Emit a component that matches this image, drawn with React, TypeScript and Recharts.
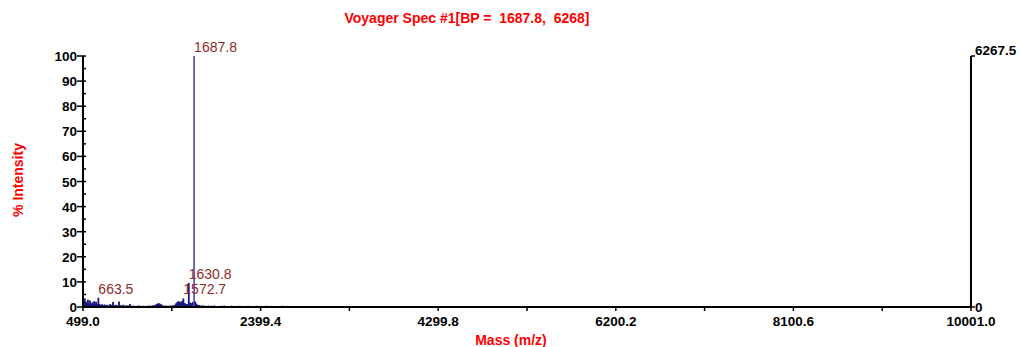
import { ComposedChart, Bar, Line, Cell, XAxis, YAxis, LabelList } from 'recharts'

// stick spectrum: m/z and relative intensity (%)
const masses = [
  507, 518, 530, 541, 552, 563, 574, 586, 597, 608, 617, 628, 638, 650, 663.5, 674, 689, 702, 716, 731,
  745, 760, 776, 790, 805, 820, 836, 851, 867, 884, 899, 915, 932, 948, 965, 982, 1002, 1020, 1041, 1060,
  1081, 1102, 1124, 1145, 1166, 1188, 1210, 1232, 1250, 1268, 1285, 1298, 1310, 1322, 1336, 1350, 1368, 1390, 1412, 1432,
  1455, 1478, 1495, 1508, 1520, 1533, 1546, 1558, 1572.7, 1588, 1603, 1617, 1630.8, 1645, 1660, 1674, 1687.8, 1700, 1712, 1726,
  1741, 1760, 1785, 1810, 1840, 1870, 1905, 1940, 1975, 2010, 2050, 2090, 2130, 2175, 2220, 2265, 2310, 2360, 2410, 2460,
  2515, 2570, 2630, 2690, 2750, 2820, 2890, 2960, 3040, 3120, 3200, 3290, 3380, 3470, 3560, 3650, 3750, 3850, 3950, 4060,
  4170, 4290, 4410, 4530, 4660, 4790, 4930, 5080, 5240, 5400, 5580, 5770, 5980, 6210,
]
const intensities = [
  2.0, 3.4, 2.2, 1.6, 2.9, 1.4, 2.6, 1.2, 1.8, 1.1, 2.3, 1.0, 2.1, 1.3, 3.7, 1.2, 0.9, 1.1, 0.8, 1.0,
  0.7, 0.9, 0.6, 1.2, 0.8, 2.0, 0.7, 0.9, 0.6, 2.2, 0.8, 0.6, 0.9, 0.5, 0.7, 0.6, 1.2, 0.5, 0.6, 0.4,
  0.5, 0.6, 0.4, 0.5, 0.4, 0.5, 0.6, 0.5, 0.7, 0.8, 1.2, 1.4, 1.5, 1.3, 1.1, 0.7, 0.5, 0.6, 0.5, 0.6,
  0.7, 0.9, 1.5, 2.0, 2.3, 2.1, 1.9, 2.4, 3.4, 1.6, 1.2, 1.1, 9.6, 1.8, 1.5, 2.0, 100, 2.2, 1.3, 0.9,
  0.8, 0.6, 0.7, 0.5, 0.6, 0.5, 0.6, 0.4, 0.5, 0.6, 0.4, 0.5, 0.4, 0.5, 0.4, 0.5, 0.4, 0.5, 0.4, 0.5,
  0.4, 0.4, 0.5, 0.3, 0.4, 0.4, 0.3, 0.4, 0.3, 0.4, 0.3, 0.4, 0.3, 0.3, 0.4, 0.3, 0.3, 0.3, 0.3, 0.3,
  0.2, 0.3, 0.2, 0.3, 0.2, 0.3, 0.2, 0.2, 0.2, 0.2, 0.2, 0.2, 0.2, 0.2,
]
const labeledPeaks = [663.5, 1572.7, 1630.8, 1687.8]
const basePeak = 1687.8
const basePeakCounts = 6267.5

const massTicks = [499.0, 1449.2, 2399.4, 3349.6, 4299.8, 5250.0, 6200.2, 7150.4, 8100.6, 9050.8, 10001.0]
const majorMassTicks = [499.0, 2399.4, 4299.8, 6200.2, 8100.6, 10001.0]
const pctTicks = [0, 5, 10, 15, 20, 25, 30, 35, 40, 45, 50, 55, 60, 65, 70, 75, 80, 85, 90, 95, 100]
const countTicks = [0, 6267.5]

const spectrum = masses.map((m, i) => ({
  mass: m,
  intensity: intensities[i],
  counts: (intensities[i] * basePeakCounts) / 100,
  tag: labeledPeaks.includes(m) ? m.toFixed(1) : '',
}))

const FONT = '"Liberation Sans", Arial, sans-serif'

function MassTick({ x, y, payload }: any) {
  const major = majorMassTicks.includes(payload.value)
  return (
    <g>
      <line x1={x} x2={x} y1={y} y2={y + 4} stroke="#000" strokeWidth={1.5} />
      {major && (
        <text x={x} y={y + 19} textAnchor="middle" fontFamily={FONT} fontWeight="bold" fontSize={13.5} fill="#000">
          {payload.value.toFixed(1)}
        </text>
      )}
    </g>
  )
}

function PctTick({ x, y, payload }: any) {
  const major = payload.value % 10 === 0
  return (
    <g>
      <line x1={major ? x - 6 : x - 1} x2={x + 3} y1={y} y2={y} stroke="#000" strokeWidth={1.5} />
      {major && (
        <text x={x - 6} y={y + 5} textAnchor="end" fontFamily={FONT} fontWeight="bold" fontSize={13.5} fill="#000">
          {payload.value}
        </text>
      )}
    </g>
  )
}

function CountTick({ x, y, payload }: any) {
  const top = payload.value > 0
  return (
    <g>
      <line x1={x} x2={x + 4} y1={y} y2={y} stroke="#000" strokeWidth={1.5} />
      <text x={x + 4} y={top ? y - 1 : y + 5} textAnchor="start" fontFamily={FONT} fontWeight="bold" fontSize={13.5} fill="#000">
        {payload.value === 0 ? '0' : payload.value.toFixed(1)}
      </text>
    </g>
  )
}

// each peak is a thin vertical stick centred on its m/z
function Stick({ x, y, width, height, fill }: any) {
  if (!height) return null
  const cx = x + width / 2
  return <rect x={cx - 0.9} y={y} width={1.8} height={height} fill={fill} />
}

function PeakLabel({ x, y, width, value }: any) {
  if (!value) return null
  return (
    <text x={x + width / 2} y={y - 4} textAnchor="start" fontFamily={FONT} fontSize={14} fill="#8e2b2b">
      {value}
    </text>
  )
}

export default function App() {
  return (
    <div style={{ position: 'absolute', left: 0, top: 0, width: 1022, height: 347, background: '#fff', fontFamily: FONT }}>
      <div style={{ position: 'absolute', left: 0, width: 934, top: 10, textAlign: 'center', color: '#ff0000', fontWeight: 'bold', fontSize: 14, whiteSpace: 'pre' }}>
        Voyager Spec #1[BP =  1687.8,  6268]
      </div>
      <div style={{ position: 'absolute', left: 0, width: 1022, top: 332, textAlign: 'center', color: '#ff0000', fontWeight: 'bold', fontSize: 14 }}>
        Mass (m/z)
      </div>
      <div
        style={{
          position: 'absolute', left: 18, top: 180, transform: 'translate(-50%, -50%) rotate(-90deg)',
          color: '#ff0000', fontWeight: 'bold', fontSize: 14, whiteSpace: 'nowrap',
        }}
      >
        % Intensity
      </div>
      <ComposedChart width={1022} height={347} data={spectrum} margin={{ top: 56, right: 6, bottom: 10, left: 43 }}>
        <XAxis
          dataKey="mass"
          type="number"
          domain={[499, 10001]}
          ticks={massTicks}
          interval={0}
          height={30}
          tickSize={0}
          tickMargin={0}
          tickLine={false}
          tick={<MassTick />}
          axisLine={{ stroke: '#000', strokeWidth: 2 }}
          allowDataOverflow
        />
        <YAxis
          yAxisId="pct"
          domain={[0, 100]}
          ticks={pctTicks}
          interval={0}
          width={40}
          tickSize={0}
          tickMargin={0}
          tickLine={false}
          tick={<PctTick />}
          axisLine={{ stroke: '#000', strokeWidth: 2 }}
        />
        <YAxis
          yAxisId="abs"
          orientation="right"
          type="number"
          domain={[0, basePeakCounts]}
          ticks={countTicks}
          interval={0}
          width={45}
          tickSize={0}
          tickMargin={0}
          tickLine={false}
          tick={<CountTick />}
          axisLine={{ stroke: '#000', strokeWidth: 2 }}
          allowDataOverflow
        />
        <Bar yAxisId="pct" dataKey="intensity" fill="#16167e" shape={<Stick />} isAnimationActive={false}>
          {spectrum.map((d) => (
            <Cell key={d.mass} fill={d.mass === basePeak ? '#5e5eb6' : '#16167e'} />
          ))}
          <LabelList dataKey="tag" content={<PeakLabel />} />
        </Bar>
        {/* absolute counts share the right-hand axis; the sticks are already drawn */}
        <Line yAxisId="abs" dataKey="counts" stroke="none" dot={false} activeDot={false} isAnimationActive={false} />
      </ComposedChart>
    </div>
  )
}
